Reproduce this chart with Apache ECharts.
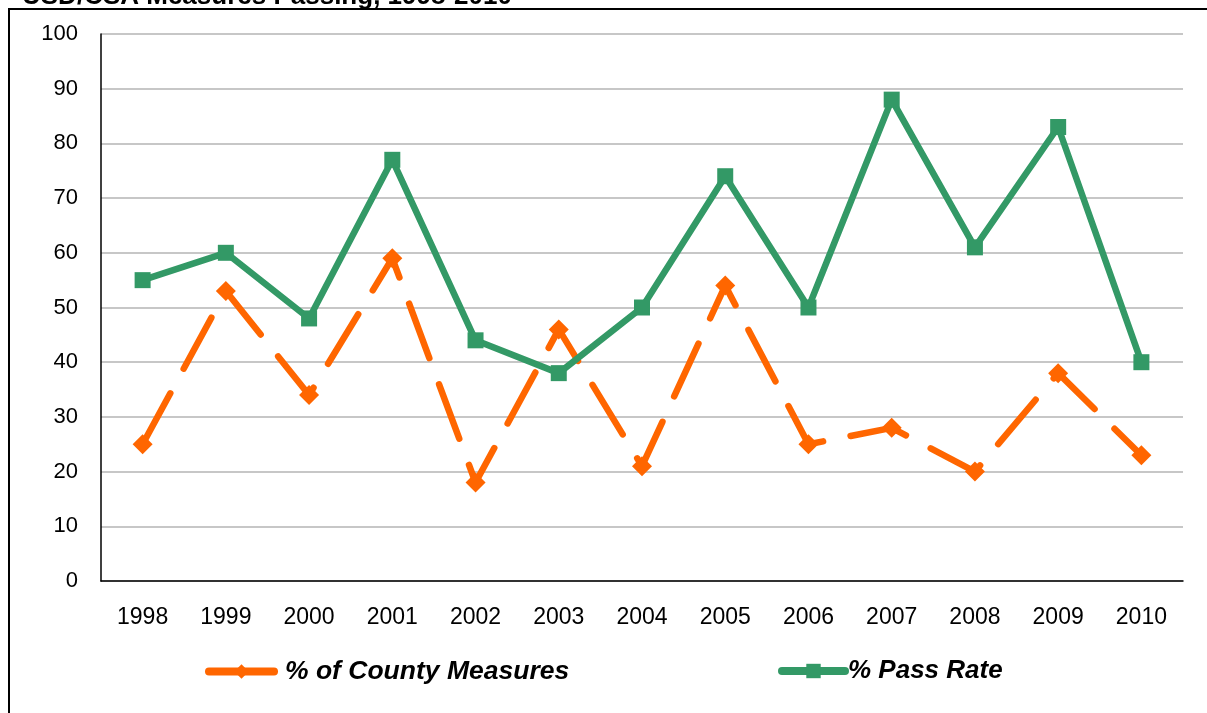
<!DOCTYPE html>
<html><head><meta charset="utf-8">
<script src="https://cdn.jsdelivr.net/npm/echarts@6/dist/echarts.min.js"></script>
<style>html,body{margin:0;padding:0;background:#fff;}#c{width:1207px;height:713px;}</style>
</head><body><div id="c"></div>
<script>
const years = ['1998','1999','2000','2001','2002','2003','2004','2005','2006','2007','2008','2009','2010'];
const countyMeasures = [25, 53, 34, 59, 18, 46, 21, 54, 25, 28, 20, 38, 23];
const passRate = [55, 60, 48, 77, 44, 38, 50, 74, 50, 88, 61, 83, 40];
const yTicks = [0, 10, 20, 30, 40, 50, 60, 70, 80, 90, 100];
const titleText = 'USD/CSA Measures Passing, 1998-2010';

const chart = echarts.init(document.getElementById('c'), null, {renderer: 'canvas'});
const FONT = 'Liberation Sans, Arial, sans-serif';
const legendText1 = {fontFamily: FONT, fontSize: 26.5, fontWeight: 'bold', fontStyle: 'italic', color: '#000', padding: [0, 0, 0, 6]};
const legendText2 = {fontFamily: FONT, fontSize: 26, fontWeight: 'bold', fontStyle: 'italic', color: '#000', padding: [0, 0, 0, -2]};
chart.setOption({
  animation: false,
  backgroundColor: '#fff',
  graphic: [
    {type: 'rect', shape: {x: 9, y: 9, width: 1220, height: 730}, style: {fill: 'none', stroke: '#000', lineWidth: 2}, silent: true},
    {type: 'text', left: 22, top: -16, style: {text: titleText, font: 'bold 26px ' + FONT, fill: '#000'}}
  ],
  grid: {left: 101, right: 24, top: 34, bottom: 132},
  legend: [
    {left: 200, top: 653, data: ['% of County Measures'], itemWidth: 65, itemHeight: 18,
     textStyle: legendText1, lineStyle: {type: 'solid', width: 8, cap: 'round'}},
    {left: 773, top: 653, data: ['% Pass Rate'], itemWidth: 63, itemHeight: 18,
     textStyle: legendText2, lineStyle: {type: 'solid', width: 8, cap: 'round'}}
  ],
  xAxis: {
    type: 'category', data: years, boundaryGap: true,
    axisLine: {lineStyle: {color: '#000', width: 1.5}},
    axisTick: {show: false},
    axisLabel: {fontFamily: FONT, fontSize: 23, color: '#000', margin: 25}
  },
  yAxis: {
    type: 'value', min: 0, max: 100, interval: 10,
    axisLine: {show: true, lineStyle: {color: '#000', width: 1.5}},
    axisTick: {show: false},
    axisLabel: {fontFamily: FONT, fontSize: 22, color: '#000', margin: 23,
      formatter: v => yTicks.includes(v) ? String(v) : ''},
    splitLine: {lineStyle: {color: '#b4b4b4', width: 1.5}}
  },
  series: [
    {name: '% of County Measures', type: 'line', data: countyMeasures,
     symbol: 'diamond', symbolSize: 20, z: 3,
     itemStyle: {color: '#ff6600'},
     lineStyle: {color: '#ff6600', width: 6.5, type: [58, 28], cap: 'round', join: 'round'}},
    {name: '% Pass Rate', type: 'line', data: passRate,
     symbol: 'rect', symbolSize: 16, z: 4,
     itemStyle: {color: '#339966'},
     lineStyle: {color: '#339966', width: 6.5, join: 'round'}}
  ]
});
</script></body></html>
